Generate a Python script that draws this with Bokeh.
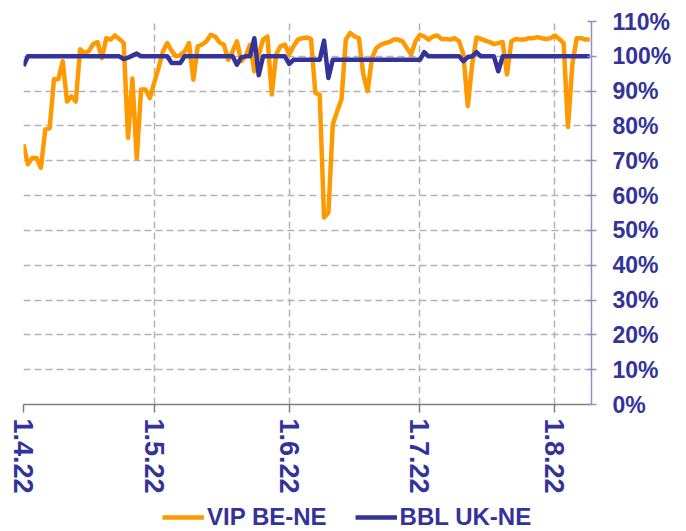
from bokeh.plotting import figure
from bokeh.models import Range1d, FixedTicker, PrintfTickFormatter, Legend, LegendItem
from bokeh.layouts import column
from bokeh.embed import file_html
from bokeh.resources import INLINE

# Days since 1 April 2022 (daily data, 1.4.22 - 9.8.22)
days = list(range(131))

vip_be_ne = [74.7, 69, 70.8, 70.8, 68, 79, 79.3, 93.4, 93.4, 98.6,
             87, 88.5, 87, 102, 101, 101.5, 103.5, 104.1, 99.5, 105.2,
             104.8, 106, 105, 103.8, 76.6, 93.6, 70.7, 90.5, 90.5, 88,
             92.4, 96.6, 101.4, 103.8, 101.6, 100, 100.3, 101.4, 103.8, 93.3,
             102.9, 103.4, 104.3, 106.2, 105.7, 104, 103.3, 99, 101.4, 104.3,
             98.6, 100, 103.3, 95.7, 100.5, 104.8, 105.7, 89, 100.5, 102.9,
             103.4, 100.5, 102.9, 104.8, 105.2, 105.4, 105, 89.5, 89, 53.7,
             55.1, 80.4, 84.2, 87.6, 104.8, 106.7, 105.7, 105.2, 94.8, 90,
             99.5, 102.4, 103.3, 103.8, 104.1, 104.8, 104.8, 104.3, 102.4, 100.5,
             104.3, 106.2, 105.7, 104.8, 105.7, 106, 105, 105, 104.8, 105.2,
             104.3, 100.5, 85.7, 97.6, 105.4, 105, 104.5, 104.1, 103.5, 103.8,
             104.1, 94.8, 104.3, 105, 104.8, 104.8, 105.2, 105.2, 105.5, 105.2,
             105, 105.2, 106, 105, 103.8, 79.7, 97.6, 105.2, 105.2, 104.8,
             104.8]

bbl_uk_ne = [97.2, 100, 100, 100, 100, 100, 100, 100, 100, 100,
             100, 100, 100, 100, 100, 100, 100, 100, 100, 100,
             100, 100, 100, 99.2, 99.6, 100.2, 100.8, 100, 100, 100,
             100, 100, 100, 100, 98.1, 98.1, 98.1, 100, 100, 100,
             100, 100, 100, 100, 100, 100, 100, 100, 100, 97.6,
             99.7, 100, 100, 105.2, 94.6, 100, 100, 100, 100, 100,
             100, 97.8, 99, 99, 99, 99, 99, 99, 99, 104.5,
             93.8, 99, 99, 99, 99, 99, 99, 99, 99, 99,
             99, 99, 99, 99, 99, 99, 99, 99, 99, 99,
             99, 99, 101.2, 100, 100, 100, 100, 100, 100, 100,
             100, 98.6, 99.8, 100, 101.2, 100, 100, 100, 100, 95.7,
             100, 100, 100, 100, 100, 100, 100, 100, 100, 100,
             100, 100, 100, 100, 100, 100, 100, 100, 100, 100,
             100]

tick_days = [0, 30, 61, 91, 122]
tick_labels = ["1.4.22", "1.5.22", "1.6.22", "1.7.22", "1.8.22"]
y_ticks = [0, 10, 20, 30, 40, 50, 60, 70, 80, 90, 100, 110]

series_names = ["VIP BE-NE", "BBL UK-NE"]
series_colors = ["#FF9900", "#333399"]

FONT = "Liberation Sans"
TEXT_COLOR = "#333399"
W = 684

p = figure(width=W, height=500, output_backend="svg", toolbar_location=None,
           x_range=Range1d(0, 130.4), y_range=Range1d(0, 110),
           y_axis_location="right",
           min_border_left=23, min_border_right=93,
           min_border_top=21, min_border_bottom=96)
p.outline_line_color = None
p.background_fill_color = "white"

# grids
p.xgrid.ticker = FixedTicker(ticks=tick_days)
p.ygrid.ticker = FixedTicker(ticks=y_ticks)
for g in (p.xgrid, p.ygrid):
    g.grid_line_color = "#b3b3b3"
    g.grid_line_dash = "7 4"
    g.grid_line_width = 1.5

# x axis
xa = p.xaxis[0]
xa.ticker = FixedTicker(ticks=tick_days)
xa.major_label_overrides = {d: l for d, l in zip(tick_days, tick_labels)}
xa.major_label_orientation = "vertical"
xa.axis_line_color = "#7f7f7f"
xa.axis_line_width = 1.5
xa.major_tick_line_color = "#7f7f7f"
xa.major_tick_line_width = 1.5
xa.major_tick_out = 8
xa.major_tick_in = 0
xa.minor_tick_line_color = None
xa.major_label_standoff = 6
xa.major_label_text_font = FONT
xa.major_label_text_font_style = "bold"
xa.major_label_text_font_size = "27px"
xa.major_label_text_color = TEXT_COLOR

# y axis (right)
ya = p.yaxis[0]
ya.ticker = FixedTicker(ticks=y_ticks)
ya.formatter = PrintfTickFormatter(format="%d%%")
ya.axis_line_color = "#9090c8"
ya.axis_line_width = 1.5
ya.major_tick_line_color = "#9090c8"
ya.major_tick_line_width = 1.5
ya.major_tick_out = 5
ya.major_tick_in = 4
ya.minor_tick_line_color = None
ya.major_label_standoff = 16
ya.major_label_text_font = FONT
ya.major_label_text_font_style = "bold"
ya.major_label_text_font_size = "23px"
ya.major_label_text_color = TEXT_COLOR

r1 = p.line(days, vip_be_ne, line_color=series_colors[0], line_width=4.5, line_join="round")
r2 = p.line(days, bbl_uk_ne, line_color=series_colors[1], line_width=4.5, line_join="round")

# legend strip below the chart (key renderers hold no visible data)
nan = float("nan")
lg = figure(width=W, height=31, output_backend="svg", toolbar_location=None,
            x_axis_location=None, y_axis_location=None,
            min_border=0, x_range=Range1d(0, 1), y_range=Range1d(0, 1))
lg.outline_line_color = None
lg.xgrid.visible = False
lg.ygrid.visible = False
k1 = lg.line([nan], [nan], line_color=series_colors[0], line_width=4.5)
k2 = lg.line([nan], [nan], line_color=series_colors[1], line_width=4.5)
legend = Legend(items=[LegendItem(label=series_names[0], renderers=[k1]),
                       LegendItem(label=series_names[1], renderers=[k2])],
                orientation="horizontal", location=(139, 0),
                glyph_width=42, glyph_height=20, label_height=20,
                label_standoff=3, spacing=28,
                padding=0, margin=0, background_fill_alpha=0, border_line_alpha=0,
                label_text_font=FONT, label_text_font_style="bold",
                label_text_font_size="24px", label_text_color=TEXT_COLOR)
lg.add_layout(legend, "center")

open("out.html", "w").write(file_html(column(p, lg, spacing=0), INLINE))
